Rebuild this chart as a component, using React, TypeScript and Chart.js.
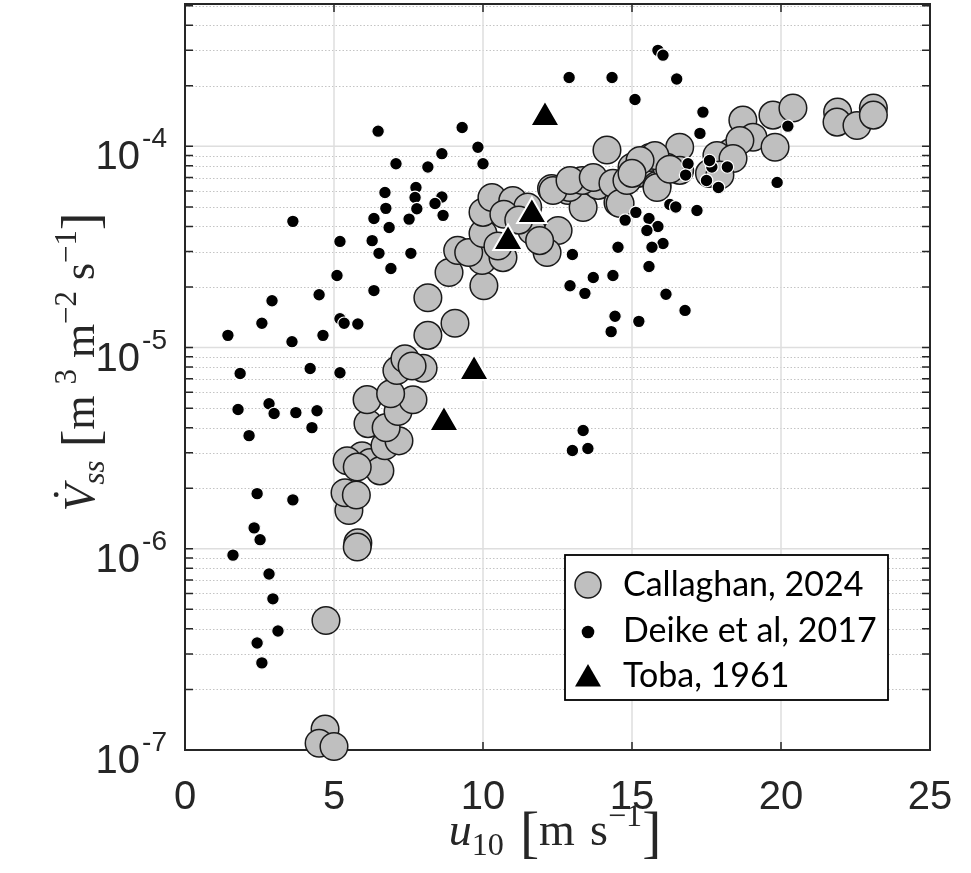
import React, { useEffect, useRef } from 'react';
import { Chart, registerables } from 'chart.js';
Chart.register(...registerables);

// Callaghan, 2024 (u10 [m/s], Vss [m^3 m^-2 s^-1])
const callaghanU = [
  4.70, 4.50, 5.00, 4.73, 5.80, 5.78, 5.54, 5.50, 5.37, 5.75,
  5.94, 5.44, 6.21, 6.54, 5.78, 6.71, 7.18, 6.14, 6.75, 7.15,
  6.11, 7.65, 6.90, 7.11, 7.38, 7.99, 7.62, 8.15, 9.06, 8.15,
  8.86, 10.03, 9.97, 9.15, 9.52, 10.67, 10.00, 10.00, 10.30, 11.00,
  11.64, 12.52, 12.15, 12.30, 12.85, 13.36, 13.86, 14.53, 15.15, 14.16,
  12.90, 12.35, 13.33, 15.20, 15.60, 15.84, 16.60, 16.17, 16.60, 17.95,
  18.30, 17.60, 18.72, 19.06, 18.62, 19.73, 20.40, 19.80, 21.90, 21.88,
  22.55, 23.10, 23.10, 11.50, 10.70, 11.20, 10.50, 11.90, 12.92, 13.70,
  14.36, 15.00, 14.60, 14.83, 15.77, 15.84, 16.27, 17.85, 18.39, 17.95,
  15.27, 15.00,
];
const callaghanV = [
  1.27e-7, 1.08e-7, 1.04e-7, 4.4e-7, 1.07e-6, 1.02e-6, 1.73e-6, 1.55e-6, 1.9e-6, 1.85e-6,
  2.9e-6, 2.74e-6, 2.68e-6, 2.44e-6, 2.55e-6, 3.25e-6, 3.44e-6, 4.19e-6, 4.0e-6, 4.81e-6,
  5.51e-6, 5.5e-6, 5.9e-6, 7.7e-6, 8.8e-6, 7.9e-6, 8.1e-6, 1.15e-5, 1.32e-5, 1.77e-5,
  2.36e-5, 2.03e-5, 2.71e-5, 3.04e-5, 2.97e-5, 2.8e-5, 3.69e-5, 4.7e-5, 5.57e-5, 5.38e-5,
  3.82e-5, 3.82e-5, 2.97e-5, 6.18e-5, 6.04e-5, 4.97e-5, 6.4e-5, 5.26e-5, 7.6e-5, 9.6e-5,
  6.25e-5, 6.04e-5, 6.77e-5, 7.34e-5, 8.8e-5, 6.4e-5, 9.9e-5, 7.87e-5, 7.6e-5, 8.5e-5,
  9.3e-5, 7.34e-5, 1.35e-4, 1.11e-4, 1.07e-4, 1.43e-4, 1.55e-4, 9.9e-5, 1.48e-4, 1.32e-4,
  1.27e-4, 1.55e-4, 1.43e-4, 5.0e-5, 4.6e-5, 4.3e-5, 3.2e-5, 3.4e-5, 6.77e-5, 7.0e-5,
  6.55e-5, 7.87e-5, 5.2e-5, 6.77e-5, 9.0e-5, 6.25e-5, 7.7e-5, 9.0e-5, 8.7e-5, 7.2e-5,
  8.5e-5, 7.34e-5,
];

// Deike et al, 2017
const deikeU = [
  6.48, 9.30, 9.83, 10.00, 8.62, 7.08, 8.15, 6.71, 7.75, 7.72,
  8.62, 8.39, 6.74, 7.78, 8.66, 6.34, 7.52, 6.85, 3.62, 5.20,
  6.28, 6.51, 7.58, 6.91, 5.10, 6.34, 4.50, 2.92, 2.58, 1.44,
  3.59, 4.63, 5.20, 5.34, 5.80, 1.85, 4.20, 5.20, 1.78, 2.82,
  2.99, 3.72, 4.43, 4.26, 2.15, 2.42, 3.62, 2.32, 2.52, 1.61,
  2.82, 2.95, 3.12, 2.42, 2.58, 12.89, 14.33, 15.87, 16.04, 16.50,
  15.10, 17.38, 17.28, 20.23, 16.88, 16.80, 17.68, 18.20, 17.50, 17.90,
  19.87, 17.60, 16.27, 16.47, 17.18, 15.13, 14.77, 15.57, 15.87, 15.50,
  16.04, 15.67, 14.53, 13.00, 15.57, 13.70, 14.36, 12.92, 13.42, 16.14,
  16.78, 14.43, 15.23, 14.30, 13.36, 13.00, 13.52,
];
const deikeV = [
  1.19e-4, 1.24e-4, 9.9e-5, 8.2e-5, 9.2e-5, 8.2e-5, 7.9e-5, 5.9e-5, 6.25e-5, 5.57e-5,
  5.6e-5, 5.2e-5, 4.92e-5, 4.9e-5, 4.54e-5, 4.38e-5, 4.35e-5, 3.95e-5, 4.24e-5, 3.37e-5,
  3.4e-5, 2.94e-5, 2.94e-5, 2.47e-5, 2.28e-5, 1.92e-5, 1.83e-5, 1.71e-5, 1.32e-5, 1.15e-5,
  1.07e-5, 1.15e-5, 1.39e-5, 1.32e-5, 1.31e-5, 7.43e-6, 7.87e-6, 7.5e-6, 4.92e-6, 5.26e-6,
  4.7e-6, 4.75e-6, 4.85e-6, 4.0e-6, 3.65e-6, 1.88e-6, 1.75e-6, 1.27e-6, 1.11e-6, 9.3e-7,
  7.5e-7, 5.64e-7, 3.9e-7, 3.4e-7, 2.71e-7, 2.2e-4, 2.2e-4, 3.0e-4, 2.84e-4, 2.16e-4,
  1.71e-4, 1.48e-4, 1.16e-4, 1.26e-4, 8.2e-5, 7.2e-5, 7.9e-5, 7.9e-5, 6.77e-5, 6.25e-5,
  6.62e-5, 8.5e-5, 5.14e-5, 5.0e-5, 4.8e-5, 4.7e-5, 4.3e-5, 4.38e-5, 4.0e-5, 3.82e-5,
  3.29e-5, 3.15e-5, 3.15e-5, 2.9e-5, 2.53e-5, 2.23e-5, 2.28e-5, 2.03e-5, 1.86e-5, 1.84e-5,
  1.53e-5, 1.43e-5, 1.35e-5, 1.2e-5, 3.87e-6, 3.08e-6, 3.15e-6,
];

// Toba, 1961
const tobaU = [12.08, 11.64, 10.84, 8.69, 9.70];
const tobaV = [1.39e-4, 4.59e-5, 3.37e-5, 4.24e-6, 7.6e-6];

const xTicks = [0, 5, 10, 15, 20, 25];
const yDecades = [-7, -6, -5, -4];
const legendLabels = ['Callaghan, 2024', 'Deike et al, 2017', 'Toba, 1961'];

const TXT = '#262626';

type Seg = { t?: string; size?: number; italic?: boolean; dy?: number; gap?: number; dot?: boolean };

function drawRich(ctx: CanvasRenderingContext2D, segs: Seg[], F: number) {
  const fontOf = (s: Seg) => `${s.italic ? 'italic ' : ''}${(s.size ?? 1) * F}px "Liberation Serif", serif`;
  let total = 0;
  for (const s of segs) {
    if (s.gap) { total += s.gap * F; continue; }
    ctx.font = fontOf(s);
    total += ctx.measureText(s.t!).width;
  }
  let x = -total / 2;
  ctx.textAlign = 'left';
  ctx.textBaseline = 'alphabetic';
  for (const s of segs) {
    if (s.gap) { x += s.gap * F; continue; }
    ctx.font = fontOf(s);
    const w = ctx.measureText(s.t!).width;
    ctx.fillText(s.t!, x, (s.dy ?? 0) * F);
    if (s.dot) {
      ctx.beginPath();
      ctx.arc(x + w * 0.62, -F * 0.86, F * 0.055, 0, Math.PI * 2);
      ctx.fill();
    }
    x += w;
  }
}

const framePlugin = {
  id: 'matlabFrame',
  beforeDatasetsDraw(chart: any) {
    const { ctx, chartArea: a, scales } = chart;
    const xs = scales.x, ys = scales.y;
    ctx.save();
    // minor y grid (dotted)
    ctx.strokeStyle = '#c4c4c4';
    ctx.lineWidth = 1;
    ctx.setLineDash([1.5, 2]);
    for (const e of yDecades) {
      for (let k = 2; k <= 9; k++) {
        const v = k * Math.pow(10, e);
        if (v > ys.max) continue;
        const py = Math.round(ys.getPixelForValue(v)) + 0.5;
        ctx.beginPath(); ctx.moveTo(a.left, py); ctx.lineTo(a.right, py); ctx.stroke();
      }
    }
    ctx.setLineDash([]);
    // major grid
    ctx.strokeStyle = '#dedede';
    ctx.lineWidth = 1.5;
    for (const e of yDecades) {
      const py = ys.getPixelForValue(Math.pow(10, e));
      ctx.beginPath(); ctx.moveTo(a.left, py); ctx.lineTo(a.right, py); ctx.stroke();
    }
    for (const t of xTicks) {
      const px = xs.getPixelForValue(t);
      ctx.beginPath(); ctx.moveTo(px, a.top); ctx.lineTo(px, a.bottom); ctx.stroke();
    }
    // ticks
    ctx.strokeStyle = TXT;
    ctx.lineWidth = 1.5;
    const tl = 8;
    for (const e of yDecades) {
      for (let k = 1; k <= 9; k++) {
        const v = k * Math.pow(10, e);
        if (v > ys.max) continue;
        const py = ys.getPixelForValue(v);
        ctx.beginPath();
        ctx.moveTo(a.left, py); ctx.lineTo(a.left + tl, py);
        ctx.moveTo(a.right, py); ctx.lineTo(a.right - tl, py);
        ctx.stroke();
      }
    }
    for (const t of xTicks) {
      const px = xs.getPixelForValue(t);
      ctx.beginPath();
      ctx.moveTo(px, a.bottom); ctx.lineTo(px, a.bottom - tl);
      ctx.moveTo(px, a.top); ctx.lineTo(px, a.top + tl);
      ctx.stroke();
    }
    // frame
    ctx.lineWidth = 2;
    ctx.strokeRect(a.left, a.top, a.right - a.left, a.bottom - a.top);
    ctx.restore();
  },
  afterDraw(chart: any) {
    const { ctx, chartArea: a, scales } = chart;
    const xs = scales.x, ys = scales.y;
    ctx.save();
    ctx.fillStyle = TXT;
    // x tick labels
    ctx.font = '40px "Liberation Sans", Arial, sans-serif';
    ctx.textAlign = 'center';
    ctx.textBaseline = 'alphabetic';
    for (const t of xTicks) {
      ctx.fillText(String(t), xs.getPixelForValue(t), a.bottom + 59);
    }
    // y tick labels 10^e
    for (const e of yDecades) {
      const py = ys.getPixelForValue(Math.pow(10, e));
      ctx.font = '28px "Liberation Sans", Arial, sans-serif';
      const sup = '-' + String(-e);
      const ws = ctx.measureText(sup).width;
      const right = a.left - 18;
      ctx.textAlign = 'left';
      ctx.fillText(sup, right - ws, py + 1);
      ctx.font = '40px "Liberation Sans", Arial, sans-serif';
      ctx.textAlign = 'right';
      ctx.fillText('10', right - ws - 2, py + 23);
    }
    // axis titles
    const F = 46;
    ctx.save();
    ctx.translate(555, 845);
    drawRich(ctx, [
      { t: 'u', italic: true },
      { t: '10', size: 0.7, dy: 0.22 },
      { gap: 0.35 },
      { t: '[', size: 1.25, dy: 0.12 },
      { t: 'm' },
      { gap: 0.33 },
      { t: 's' },
      { t: '\u22121', size: 0.7, dy: -0.42 },
      { t: ']', size: 1.25, dy: 0.12 },
    ], F);
    ctx.restore();
    ctx.save();
    ctx.translate(94, 362);
    ctx.rotate(-Math.PI / 2);
    drawRich(ctx, [
      { t: 'V', italic: true, dot: true },
      { t: 'ss', italic: true, size: 0.7, dy: 0.22 },
      { gap: 0.3 },
      { t: '[', size: 1.2, dy: 0.1 },
      { t: 'm' },
      { gap: 0.25 },
      { t: '3', size: 0.7, dy: -0.42 },
      { gap: 0.25 },
      { t: 'm' },
      { t: '\u22122', size: 0.7, dy: -0.42 },
      { gap: 0.25 },
      { t: 's' },
      { t: '\u22121', size: 0.7, dy: -0.42 },
      { t: ']', size: 1.2, dy: 0.1 },
    ], 44);
    ctx.restore();

    // legend
    const bx = 565, by = 555, bw = 323, bh = 145;
    ctx.fillStyle = '#ffffff';
    ctx.fillRect(bx, by, bw, bh);
    ctx.strokeStyle = '#000000';
    ctx.lineWidth = 1.8;
    ctx.strokeRect(bx, by, bw, bh);
    const rows = [585, 632, 677];
    const mx = 588;
    ctx.beginPath();
    ctx.arc(mx, rows[0], 13, 0, Math.PI * 2);
    ctx.fillStyle = '#bfbfbf'; ctx.fill();
    ctx.strokeStyle = '#1a1a1a'; ctx.lineWidth = 1.5; ctx.stroke();
    ctx.beginPath();
    ctx.arc(mx, rows[1], 6.3, 0, Math.PI * 2);
    ctx.fillStyle = '#000'; ctx.fill();
    const r = 15;
    ctx.beginPath();
    ctx.moveTo(mx, rows[2] - r + 2);
    ctx.lineTo(mx + r * 0.866, rows[2] + r * 0.5 + 2);
    ctx.lineTo(mx - r * 0.866, rows[2] + r * 0.5 + 2);
    ctx.closePath();
    ctx.fill();
    ctx.fillStyle = '#000';
    ctx.font = '34px Lato, "Open Sans", sans-serif';
    ctx.textAlign = 'left';
    ctx.textBaseline = 'alphabetic';
    const baselines = [596, 642, 687];
    legendLabels.forEach((l, i) => ctx.fillText(l, 623, baselines[i]));
    ctx.restore();
  },
};

export default function App() {
  const ref = useRef<HTMLCanvasElement | null>(null);
  useEffect(() => {
    if (!ref.current) return;
    const toPts = (xs: number[], ys: number[]) => xs.map((x, i) => ({ x, y: ys[i] }));
    const chart = new Chart(ref.current, {
      type: 'scatter',
      data: {
        datasets: [
          {
            label: legendLabels[0],
            data: toPts(callaghanU, callaghanV),
            pointStyle: 'circle',
            pointRadius: 13.8,
            backgroundColor: '#bfbfbf',
            borderColor: '#1a1a1a',
            borderWidth: 1.5,
            order: 3,
            clip: false as any,
          },
          {
            label: legendLabels[1],
            data: toPts(deikeU, deikeV),
            pointStyle: 'circle',
            pointRadius: 6.3,
            backgroundColor: '#000000',
            borderColor: '#ffffff',
            borderWidth: 1.2,
            order: 2,
            clip: false as any,
          },
          {
            label: legendLabels[2],
            data: toPts(tobaU, tobaV),
            pointStyle: 'triangle',
            pointRadius: 17,
            backgroundColor: '#000000',
            borderColor: '#ffffff',
            borderWidth: 2,
            order: 1,
            clip: false as any,
          },
        ],
      },
      options: {
        animation: false,
        responsive: false,
        devicePixelRatio: 1,
        layout: { autoPadding: false, padding: { left: 185, right: 41, top: 4, bottom: 123 } },
        plugins: { legend: { display: false }, tooltip: { enabled: false } },
        scales: {
          x: { type: 'linear', min: 0, max: 25, display: false },
          y: { type: 'logarithmic', min: 1e-7, max: 5.1e-4, display: false },
        },
      },
      plugins: [framePlugin],
    });
    return () => chart.destroy();
  }, []);
  return (
    <div style={{ position: 'absolute', left: 0, top: 0, width: 971, height: 873, background: '#fff' }}>
      <canvas ref={ref} width={971} height={873} style={{ display: 'block' }} />
    </div>
  );
}
